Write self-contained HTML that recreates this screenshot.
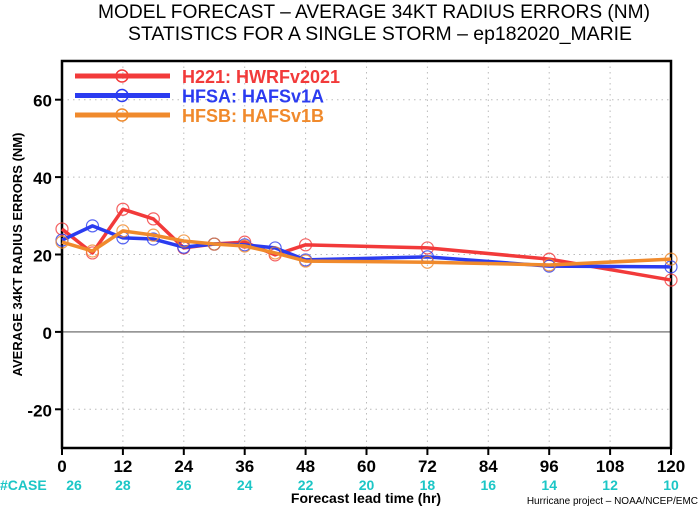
<!DOCTYPE html>
<html><head><meta charset="utf-8"><style>
html,body{margin:0;padding:0;background:#fff;}
svg{display:block;font-family:"Liberation Sans",sans-serif;}
</style></head><body>
<svg id="chart" width="700" height="506" viewBox="0 0 700 506">
<text x="374" y="18" font-size="19" text-anchor="middle" textLength="552" lengthAdjust="spacingAndGlyphs">MODEL FORECAST – AVERAGE 34KT RADIUS ERRORS (NM)</text>
<text x="380" y="40" font-size="19" text-anchor="middle" textLength="504" lengthAdjust="spacingAndGlyphs">STATISTICS FOR A SINGLE STORM – ep182020_MARIE</text>
<g id="grid"></g>
<g id="axes"></g>
<g id="series"></g>
<g id="legend"></g>
</svg>
<script>
const hours=[0,6,12,18,24,30,36,42,48,72,96,120];
const h221=[26.6,20.4,31.7,29.2,21.7,22.7,23.2,19.9,22.5,21.7,18.8,13.4];
const hfsa=[23.7,27.4,24.3,24.0,21.9,22.7,22.5,21.7,18.6,19.4,17.0,16.8];
const hfsb=[23.2,20.9,26.1,25.0,23.5,22.7,22.2,20.4,18.3,18.0,17.3,18.8];
const xTicks=[0,12,24,36,48,60,72,84,96,108,120];
const caseCounts=[26,28,26,24,22,20,18,16,14,12,10];
const yTicks=[-20,0,20,40,60];
const seriesNames=["H221: HWRFv2021","HFSA: HAFSv1A","HFSB: HAFSv1B"];
const seriesColors=["#f23a3a","#2b3cf0","#f08a2c"];
const L=62,R=671,T=61,B=448,yMin=-30,yMax=70;
const NS="http://www.w3.org/2000/svg";
function xs(h){return L+(h/120)*(R-L);}
function ys(v){return B-(v-yMin)/(yMax-yMin)*(B-T);}
function mk(tag,attrs,parent,text){const e=document.createElementNS(NS,tag);for(const k in attrs)e.setAttribute(k,attrs[k]);if(text!==undefined)e.textContent=text;parent.appendChild(e);return e;}
const grid=document.getElementById('grid'),axes=document.getElementById('axes'),ser=document.getElementById('series'),leg=document.getElementById('legend');
xTicks.forEach((h,i)=>{
  if(h>0&&h<120){const g=mk('line',{x1:xs(h),x2:xs(h),y1:T,y2:B,stroke:'#bbb','stroke-dasharray':'1.5,4'},grid);
  
  }
  const t=mk('line',{x1:xs(h),x2:xs(h),y1:B,y2:B+7,stroke:'#000','stroke-width':2},axes);
  
  
  const lb=mk('text',{x:xs(h),y:B+24,'font-size':17,'font-weight':'bold','text-anchor':'middle'},axes,String(h));
  
  
  const c=mk('text',{x:xs(h)+(i===0?12:0),y:B+42,'font-size':14,'font-weight':'bold',fill:'#1cc6c6','text-anchor':'middle'},axes,String(caseCounts[i]));
  
  
});
yTicks.forEach(v=>{
  if(v!==0){const g=mk('line',{x1:L,x2:R,y1:ys(v),y2:ys(v),stroke:'#bbb','stroke-dasharray':'1.5,4'},grid);
  
  }
  const t=mk('line',{x1:L-7,x2:L,y1:ys(v),y2:ys(v),stroke:'#000','stroke-width':2},axes);
  
  
  const lb=mk('text',{x:L-10,y:ys(v)+7,'font-size':17,'font-weight':'bold','text-anchor':'end'},axes,String(v));
  
  
});
const zl=mk('line',{x1:L,x2:R,y1:ys(0),y2:ys(0),stroke:'#888','stroke-width':1.5},grid);


const box=mk('path',{d:`M${L},${T}H${R}V${B}H${L}Z`,fill:'none',stroke:'#000','stroke-width':2.5},axes);


const cl=mk('text',{x:0,y:B+42,'font-size':14,'font-weight':'bold',fill:'#1cc6c6'},axes,'#CASE');


const xt=mk('text',{x:366,y:B+55,'font-size':14,'font-weight':'bold','text-anchor':'middle'},axes,'Forecast lead time (hr)');


const cr=mk('text',{x:698,y:B+56,'font-size':10,'text-anchor':'end'},axes,'Hurricane project – NOAA/NCEP/EMC');


const yt=mk('text',{x:0,y:0,'font-size':13,'font-weight':'bold','text-anchor':'middle',transform:`translate(22,${ys(20)}) rotate(-90)`},axes,'AVERAGE 34KT RADIUS ERRORS (NM)');


[h221,hfsa,hfsb].forEach((vals,si)=>{
  const col=seriesColors[si];
  const pl=mk('polyline',{points:vals.map((v,i)=>xs(hours[i])+','+ys(v)).join(' '),fill:'none',stroke:col,'stroke-width':3.5,'stroke-linejoin':'round'},ser);
  
  
  vals.forEach((v,i)=>{
    const c=mk('circle',{cx:xs(hours[i]),cy:ys(v),r:6,fill:'none',stroke:col,'stroke-width':1.2,opacity:0.8},ser);
    
    
  });
  const ly=76+si*19.5;
  const ll=mk('line',{x1:75,x2:170,y1:ly,y2:ly,stroke:col,'stroke-width':5},leg);
  
  
  const lc=mk('circle',{cx:122,cy:ly,r:6,fill:'none',stroke:col,'stroke-width':1.5},leg);
  
  
  const lt=mk('text',{x:182,y:ly+7,'font-size':18,'font-weight':'bold',fill:col},leg,seriesNames[si]);
  
  
});
</script>
</body></html>
